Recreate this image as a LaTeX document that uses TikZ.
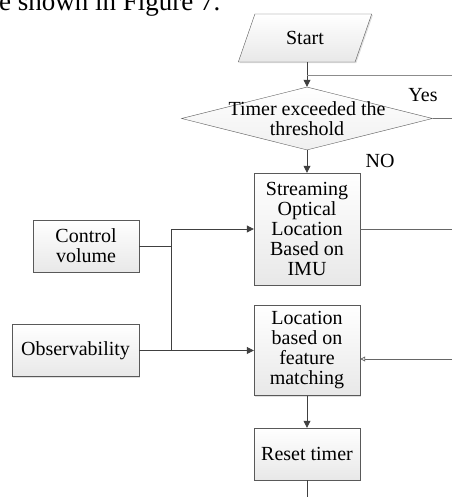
\documentclass[tikz,border=0pt]{standalone}
\usepackage{fontspec}
\setmainfont{Liberation Serif}
\usetikzlibrary{shapes.geometric,arrows.meta,shadows}

\tikzset{
  procbox/.style={draw=black!65, top color=white, bottom color=gray!18,
    drop shadow={shadow xshift=1.2pt, shadow yshift=-1.2pt, fill=gray!60, opacity=0.4},
    minimum width=106pt, minimum height=52pt, inner sep=0pt, align=center,
    font=\fontsize{20}{20}\selectfont},
  iobox/.style={procbox, trapezium, trapezium left angle=65, trapezium right angle=115,
    trapezium stretches=true, minimum width=134pt, minimum height=48pt},
  decision/.style={diamond, draw=black!65, top color=white, bottom color=gray!12,
    minimum width=251pt, minimum height=63pt, inner sep=0pt},
  line/.style={draw=black!75, line width=0.8pt},
  arr/.style={line, -{Triangle[length=7pt,width=7pt]}},
}

\begin{document}
\begin{tikzpicture}[x=1pt,y=1pt]
  \useasboundingbox (0,0) rectangle (452,497);

  % page text cut off at the top
  \node[anchor=base west, inner sep=0pt, font=\fontsize{27}{27}\selectfont]
    (figref) at (-1,486) {e shown in Figure 7.};

  % main column
  \node[iobox] (start) at (305,459) {Start};
  \node[decision] (timer) at (307,378.5) {};
  \node[align=center, inner sep=0pt, font=\fontsize{20}{20}\selectfont]
    (timertext) at (timer) {Timer exceeded the\\threshold};
  \node[procbox, minimum height=112pt] (imu) at (307,268)
    {Streaming\\Optical\\Location\\Based on\\IMU};
  \node[procbox, minimum height=90pt] (match) at (307,146.5)
    {Location\\based on\\feature\\matching};
  \node[procbox] (reset) at (307,43) {Reset timer};

  % inputs on the left
  \node[procbox] (control) at (86,251) {Control\\volume};
  \node[procbox, minimum width=127pt] (observ) at (75.5,146.5) {Observability};

  % labels
  \node[font=\fontsize{20}{20}\selectfont] (yeslabel) at (423,402) {Yes};
  \node[font=\fontsize{20}{20}\selectfont] (nolabel) at (380,336) {NO};

  % free ends and junctions
  \coordinate (jx) at (171,0);
  \coordinate (edge) at (452,0);
  \coordinate (branch) at (307,422);
  \coordinate (featin) at (452,138);
  \coordinate (bottomend) at (307,0);

  % connectors
  \draw[arr] (start.south -| timer.north) -- (timer.north);
  \draw[line, draw=black!45] (branch) -- (branch -| edge);
  \draw[line, draw=black!55] (timer.east) -- (timer.east -| edge);
  \draw[arr] (timer.south) -- (imu.north);
  \draw[line, draw=black!60] (imu.east) -- (imu.east -| edge);
  \draw[line] (control.east) -- (control.east -| jx);
  \draw[arr] (observ.east) -- (match.west);
  \draw[arr] (observ.east -| jx) |- (imu.west);
  \draw[line, draw=black!60, -{Triangle[open,length=5pt,width=5pt]}] (featin) -- (featin -| match.east);
  \draw[arr] (match.south) -- (reset.north);
  \draw[line] (reset.south) -- (bottomend);
\end{tikzpicture}
\end{document}
